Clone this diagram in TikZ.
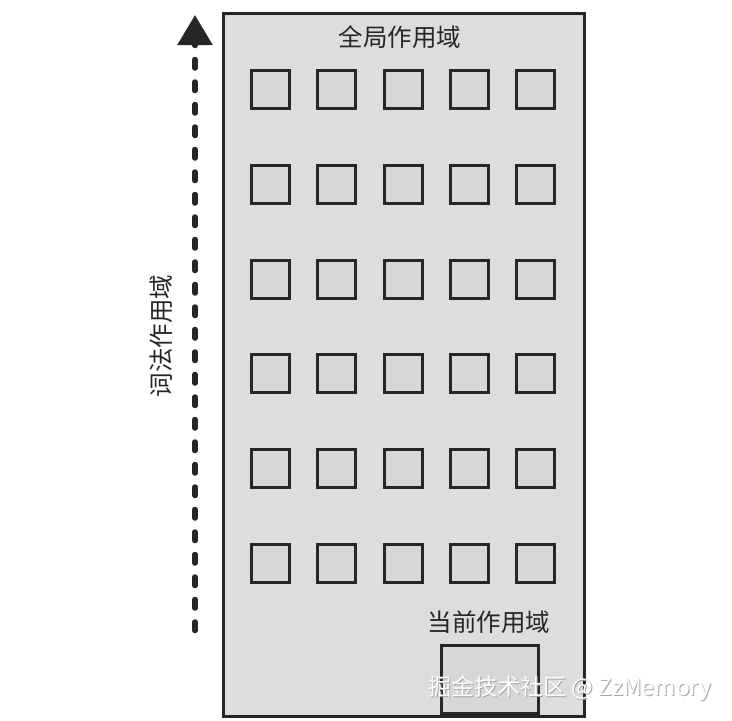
\documentclass[tikz,border=0pt]{standalone}
\usepackage{fontspec}
\newfontfamily\cjk{Noto Sans CJK SC}
\usetikzlibrary{arrows.meta}
\definecolor{bfill}{HTML}{DDDDE0}
\definecolor{wfill}{HTML}{D7D7D9}
\definecolor{ink}{HTML}{262626}
\tikzset{
  building/.style={draw=ink, line width=3pt, fill=bfill, anchor=north west, inner sep=0pt},
  window/.style={draw=ink, line width=3pt, fill=wfill, anchor=north west, minimum width=38pt, minimum height=38pt, inner sep=0pt},
  label/.style={font=\cjk\fontsize{24.5}{24.5}\selectfont, text=ink, inner sep=0pt},
  dasharrow/.style={line width=5.5pt, line cap=round, draw=ink, dash pattern=on 8.5pt off 14pt, -{Triangle[width=34pt,length=30pt]}},
  wmark/.style={font=\cjk\fontsize{23}{23}\selectfont, inner sep=0pt},
}
\begin{document}
\begin{tikzpicture}[x=1pt,y=-1pt]
\useasboundingbox (0,0) rectangle (732,721);
\node[building, minimum width=361pt, minimum height=703pt] (bld) at (221.5,11.5) {};
\foreach \r in {0,...,5}{
  \foreach \c in {0,...,4}{
    \node[window] (w\r\c) at ({250+66.25*\c},{69+94.8*\r}) {};
  }
}
\node[draw=ink, line width=3pt, fill=wfill, anchor=south west, minimum width=97pt, minimum height=68pt, inner sep=0pt] (door) at (439.5,714.5) {};
\node[label] (global) at (400,37) {全局作用域};
\node[label] (current) at (489,622) {当前作用域};
\node[label, rotate=90] (lex) at (161,336) {词法作用域};
\coordinate (abot) at (195,630.5);
\coordinate (atop) at (195,15);
\draw[dasharrow] (abot) -- (atop);
\node[wmark, text=gray!70] (wmshadow) at (571,689) {掘金技术社区 @ ZzMemory};
\node[wmark, text=white] (wm) at (570,688) {掘金技术社区 @ ZzMemory};
\end{tikzpicture}
\end{document}
